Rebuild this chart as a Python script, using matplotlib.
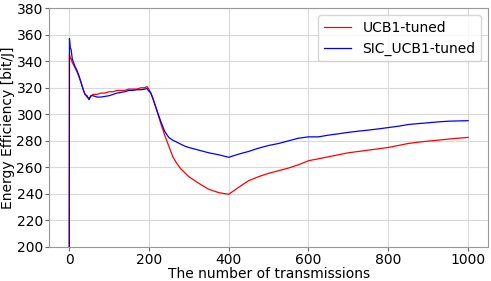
import matplotlib
matplotlib.use("Agg")
import matplotlib.pyplot as plt

steps = [0, 1, 3, 5, 8, 10, 15, 20, 25, 30, 35, 40, 45, 50, 55, 60, 70, 80, 90,
         100, 110, 120, 130, 140, 150, 160, 170, 180, 190, 195, 200, 205, 210,
         220, 230, 240, 250, 260, 270, 280, 290, 300, 325, 350, 375, 400, 425,
         450, 475, 500, 525, 550, 575, 600, 625, 650, 675, 700, 725, 750, 775,
         800, 825, 850, 875, 900, 925, 950, 975, 1000]

ucb_tuned = [0, 345, 342, 342, 339, 338, 335, 332, 328, 324, 319, 315, 313, 312,
             314, 315, 315, 316, 316, 317, 317, 318, 318, 318, 319, 319, 319,
             320, 320, 321, 319, 316, 312, 303, 293, 284, 276, 268, 263, 259,
             256, 253, 248, 243.5, 241, 239.7, 245, 250, 253, 255.5, 257.5,
             259.5, 262, 265, 266.5, 268, 269.5, 271, 272, 273, 274, 275,
             276.5, 278, 279, 279.8, 280.5, 281.3, 282, 282.6]

sic_ucb_tuned = [0, 357, 350, 349, 342, 340, 336, 333, 329, 324, 319, 315, 314,
                 311, 314, 314, 313, 313, 313.5, 314, 315, 316, 316.5, 317, 318,
                 318, 318.5, 318.5, 319, 319.5, 317.5, 316, 312, 303, 294.5, 287,
                 282.5, 280.5, 279, 277.5, 276, 275, 273, 271, 269.5, 267.6, 270,
                 272, 274.5, 276.5, 278, 280, 282, 283, 283, 284.3, 285.3, 286.4,
                 287.3, 288.1, 289, 290, 291, 292.3, 293, 293.6, 294.3, 294.8,
                 295, 295.2]

fig, ax = plt.subplots(figsize=(4.91, 2.81), dpi=100)
fig.subplots_adjust(left=0.1, right=0.994, top=0.971, bottom=0.121)

ax.plot(steps, ucb_tuned, color="red", lw=0.9, label="UCB1-tuned")
ax.plot(steps, sic_ucb_tuned, color="blue", lw=0.9, label="SIC_UCB1-tuned")

ax.set_ylim(200, 380)
ax.set_xticks([0, 200, 400, 600, 800, 1000])
ax.set_yticks(range(200, 381, 20))
ax.tick_params(labelsize=10, color="0.4", length=3, pad=1.5)
ax.grid(True, color="0.85", lw=0.8)
for s in ax.spines.values():
    s.set_color("0.6")

ax.set_xlabel("The number of transmissions", fontsize=10, labelpad=0)
ax.set_ylabel("Energy Efficiency [bit/J]", fontsize=10, labelpad=1)
ax.legend(loc="upper right", fontsize=10)

fig.savefig("out.png")
